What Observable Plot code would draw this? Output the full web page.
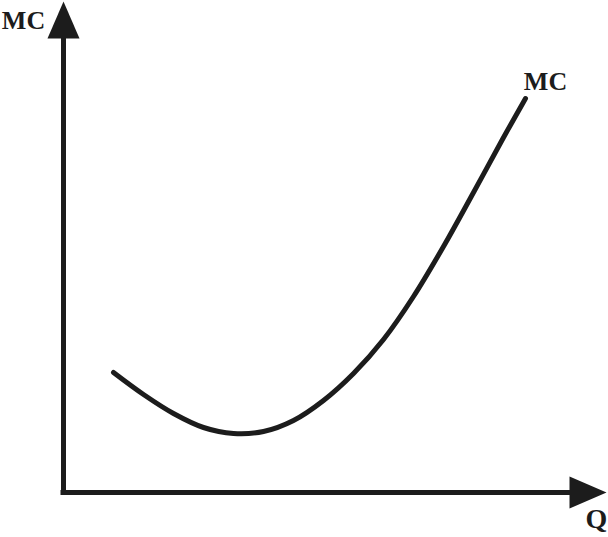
<!DOCTYPE html>
<html>
<head>
<meta charset="utf-8">
<script src="https://cdn.jsdelivr.net/npm/d3@7"></script>
<script src="https://cdn.jsdelivr.net/npm/@observablehq/plot@0.6"></script>
<style>
  html, body { margin: 0; padding: 0; background: #fff; }
  svg { display: block; }
</style>
</head>
<body>
<div id="chart"></div>
<script>
// Quantity (Q) and marginal cost (MC) (arbitrary units)
const quantity = [50, 80, 110, 140, 170, 200, 230, 260, 290, 320, 350, 380, 410, 440, 462];
const marginalCost = [120, 98, 79, 65, 59, 61, 72, 92, 119, 153, 196, 246, 300, 355, 394];

// Axis extents (arbitrary units)
const xAxisEnd = 506;
const yAxisEnd = 454;

// Labels
const labelText = ["MC", "Q", "MC"];
const labelQ = [-40, 533, 482];
const labelMC = [472, -27, 411];
const labelSize = [26, 28, 26];

const curve = quantity.map((q, i) => ({q, mc: marginalCost[i]}));
const labels = labelText.map((t, i) => ({text: t, q: labelQ[i], mc: labelMC[i], size: labelSize[i]}));

const ink = "#1c1c1c";

// filled arrowhead: base centred on the anchor point, tip pointing up (rotated for x axis)
const arrowHead = {
  draw(context, size) {
    const len = 37, half = 16;
    context.moveTo(0, -len);
    context.lineTo(half, 0);
    context.lineTo(-half, 0);
    context.closePath();
  }
};

const chart = Plot.plot({
  width: 608,
  height: 537,
  marginLeft: 63,
  marginRight: 0,
  marginTop: 0,
  marginBottom: 45,
  x: {domain: [0, 545], axis: null},
  y: {domain: [0, 492], axis: null},
  marks: [
    Plot.ruleX([0], {y1: 0, y2: yAxisEnd + 2, stroke: ink, strokeWidth: 5, strokeLinecap: "square"}),
    Plot.ruleY([0], {x1: 0, x2: xAxisEnd + 2, stroke: ink, strokeWidth: 5, strokeLinecap: "square"}),
    Plot.dot([{q: 0, mc: yAxisEnd}], {x: "q", y: "mc", symbol: arrowHead, fill: ink, stroke: "none", r: 10}),
    Plot.dot([{q: xAxisEnd, mc: 0}], {x: "q", y: "mc", symbol: arrowHead, fill: ink, stroke: "none", r: 10, rotate: 90}),
    Plot.line(curve, {x: "q", y: "mc", curve: "catmull-rom", stroke: ink, strokeWidth: 5}),
    Plot.text(labels, {
      x: "q", y: "mc", text: "text", fontSize: "size",
      fontFamily: "Liberation Serif, Times New Roman, serif",
      fontWeight: "bold", fill: ink,
      textAnchor: "middle", lineAnchor: "middle", clip: false
    })
  ]
});
chart.style.overflow = "visible";
document.getElementById("chart").append(chart);
</script>
</body>
</html>
